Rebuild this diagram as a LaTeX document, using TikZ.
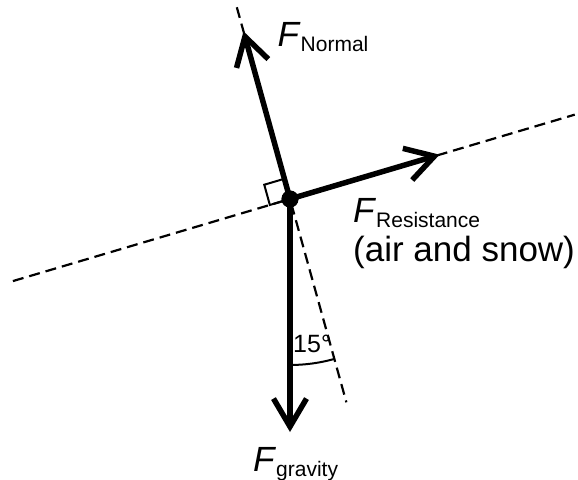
\documentclass[tikz,border=0pt]{standalone}
\usepackage{fontspec}
\setmainfont{Liberation Sans}
\usetikzlibrary{positioning, arrows.meta}

\newcommand{\Fsub}[1]{\textit{F}\raisebox{-5pt}{\fontsize{21}{21}\selectfont #1}}

\begin{document}
\begin{tikzpicture}[
        x=1pt, y=1pt,
        force/.style={line width=5.5pt, -{Straight Barb[length=28pt, width=33pt]}},
        guide/.style={line width=2.2pt, dash pattern=on 11pt off 6pt},
        thin/.style={line width=2pt},
        dot/.style={circle, fill, inner sep=0pt, minimum size=17pt},
        lbl/.style={inner sep=0pt, anchor=base west, font=\fontsize{35}{40}\selectfont},
        small/.style={inner sep=0pt, anchor=base west, font=\fontsize{25}{30}\selectfont}
    ]
    \useasboundingbox (-290,-280) rectangle (288,199);

    \coordinate (NormalEnd) at (105.5:199);
    \coordinate (SlopeEnd) at (-74.5:211);
    \coordinate (LeftEnd) at (196.5:289);
    \coordinate (RightEnd) at (16.5:297);
    \coordinate (NormalTip) at (105.5:174);
    \coordinate (ResTip) at (16.5:156);
    \coordinate (GravTip) at (0,-233);

    \draw[guide] (NormalEnd) -- (SlopeEnd);
    \draw[guide] (LeftEnd) -- (RightEnd);

    \node[dot] (Body) at (0,0) {};

    \draw[thin] (Body.center) -- ++(196.5:21) -- ++(105.5:21) -- ++(16.5:21);
    \draw[thin] (Body.center) ++(-90:166) arc[start angle=-90, end angle=-74.5, radius=166];

    \draw[force] (Body.center) -- (NormalTip);
    \draw[force] (Body.center) -- (ResTip);
    \draw[force] (Body.center) -- (GravTip);
    \node[dot] at (Body) {};

    \node[lbl] (NormalLbl) at ([shift={(34,-15)}]NormalTip) {\Fsub{Normal}};
    \node[lbl] (ResLbl) at (63,-23) {\Fsub{Resistance}};
    \node[lbl] (ResNote) at ([yshift=-39pt]ResLbl.base west) {(air and snow)};
    \node[lbl] (GravLbl) at ([shift={(-37,-39)}]GravTip) {\Fsub{gravity}};
    \node[small] (AngleLbl) at (3,-153) {15°};

\end{tikzpicture}
\end{document}
